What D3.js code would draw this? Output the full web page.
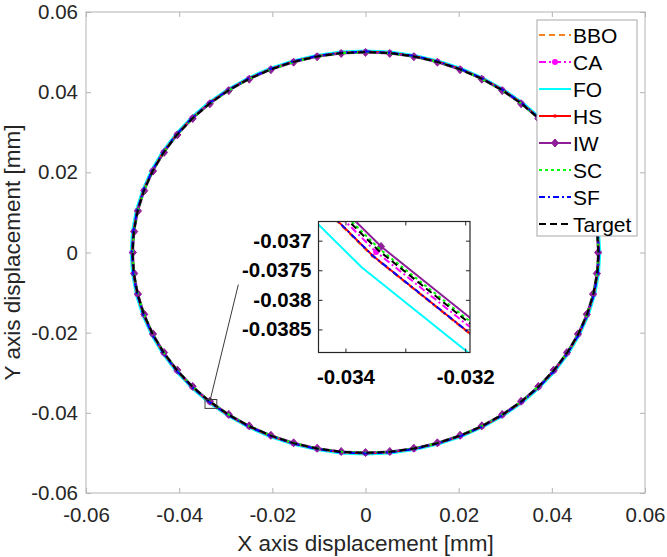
<!DOCTYPE html>
<html>
<head>
<meta charset="utf-8">
<script src="https://cdn.jsdelivr.net/npm/d3@7"></script>
<style>
  body { margin: 0; background: #fff; }
  svg { display: block; font-family: Arial, "Liberation Sans", Helvetica, sans-serif; }
</style>
</head>
<body>
<div id="root"></div>
<script>
// target trajectory, one point every 6 degrees [mm]
var targetX = [0.05, 0.049726, 0.048907, 0.047553, 0.045677, 0.043301, 0.040451, 0.037157, 0.033457, 0.029389, 0.025, 0.020337, 0.015451, 0.010396, 0.005226, 0,
  -0.005226, -0.010396, -0.015451, -0.020337, -0.025, -0.029389, -0.033457, -0.037157, -0.040451, -0.043301, -0.045677, -0.047553, -0.048907, -0.049726, -0.05,
  -0.049726, -0.048907, -0.047553, -0.045677, -0.043301, -0.040451, -0.037157, -0.033457, -0.029389, -0.025, -0.020337, -0.015451, -0.010396, -0.005226, 0,
  0.005226, 0.010396, 0.015451, 0.020337, 0.025, 0.029389, 0.033457, 0.037157, 0.040451, 0.043301, 0.045677, 0.047553, 0.048907, 0.049726, 0.05];
var targetY = [0, 0.005226, 0.010396, 0.015451, 0.020337, 0.025, 0.029389, 0.033457, 0.037157, 0.040451, 0.043301, 0.045677, 0.047553, 0.048907, 0.049726, 0.05,
  0.049726, 0.048907, 0.047553, 0.045677, 0.043301, 0.040451, 0.037157, 0.033457, 0.029389, 0.025, 0.020337, 0.015451, 0.010396, 0.005226, 0,
  -0.005226, -0.010396, -0.015451, -0.020337, -0.025, -0.029389, -0.033457, -0.037157, -0.040451, -0.043301, -0.045677, -0.047553, -0.048907, -0.049726, -0.05,
  -0.049726, -0.048907, -0.047553, -0.045677, -0.043301, -0.040451, -0.037157, -0.033457, -0.029389, -0.025, -0.020337, -0.015451, -0.010396, -0.005226, 0];

var seriesNames = ["BBO", "CA", "FO", "HS", "IW", "SC", "SF", "Target"];
// radius each algorithm actually tracked [mm]
var seriesRadius = [0.05014, 0.050045, 0.0504, 0.05013, 0.049922, 0.04997, 0.05013, 0.05];

var mainTicks = [-0.06, -0.04, -0.02, 0, 0.02, 0.04, 0.06];
var insetXTicks = [-0.034, -0.033, -0.032];
var insetXLabels = ["-0.034", "", "-0.032"];
var insetYTicks = [-0.037, -0.0375, -0.038, -0.0385];
var insetYLabels = ["-0.037", "-0.0375", "-0.038", "-0.0385"];
var insetXDomain = [-0.03445, -0.03192];
var insetYDomain = [-0.03889, -0.036676];
// leader line from the zoom box towards the inset [mm]
var leaderX = [-0.0333, -0.0273];
var leaderY = [-0.0366, -0.0080];

var styles = {
  BBO:    { color: "#f7811f", dash: "6,4",     marker: null },
  CA:     { color: "#ff00ff", dash: "7,3,2,3", marker: "dot" },
  FO:     { color: "#00ffff", dash: null,      marker: null },
  HS:     { color: "#ff0000", dash: null,      marker: "small" },
  IW:     { color: "#8e1f98", dash: null,      marker: "diamond" },
  SC:     { color: "#00ff00", dash: "3,3",     marker: null },
  SF:     { color: "#0000ff", dash: "6,3,2,3", marker: null },
  Target: { color: "#000000", dash: "7,4",     marker: null }
};

var W = 667, H = 557;
var plot = { left: 86, right: 645, top: 12, bottom: 493 };
var axisGray = "#b4b4b4", textGray = "#262626";

// build every series from the target points and its radius
var series = seriesNames.map(function(name, k) {
  var f = seriesRadius[k] / 0.05;
  return {
    name: name,
    pts: targetX.map(function(x, i) { return [x * f, targetY[i] * f]; })
  };
});

var svg = d3.select("#root").append("svg").attr("width", W).attr("height", H);
svg.append("rect").attr("width", W).attr("height", H).attr("fill", "white");

var x = d3.scaleLinear().domain([-0.06, 0.06]).range([plot.left, plot.right]);
var y = d3.scaleLinear().domain([-0.06, 0.06]).range([plot.bottom, plot.top]);

var fmt = function(d) { return d === 0 ? "0" : d.toFixed(2); };

function styleAxis(g, labels) {
  g.select(".domain").remove();
  g.selectAll(".tick line").attr("stroke", axisGray);
  g.selectAll(".tick text").attr("fill", textGray).style("font-size", labels ? "20.5px" : "0px");
}

svg.append("g").attr("transform", "translate(0," + plot.bottom + ")")
  .call(d3.axisBottom(x).tickValues(mainTicks).tickFormat(fmt).tickSizeInner(-5).tickSizeOuter(0).tickPadding(14))
  .call(styleAxis, true);
svg.append("g").attr("transform", "translate(" + plot.left + ",0)")
  .call(d3.axisLeft(y).tickValues(mainTicks).tickFormat(fmt).tickSizeInner(-5).tickSizeOuter(0).tickPadding(8))
  .call(styleAxis, true);
svg.append("g").attr("transform", "translate(0," + plot.top + ")")
  .call(d3.axisTop(x).tickValues(mainTicks).tickFormat("").tickSizeInner(-5).tickSizeOuter(0))
  .call(styleAxis, false);
svg.append("g").attr("transform", "translate(" + plot.right + ",0)")
  .call(d3.axisRight(y).tickValues(mainTicks).tickFormat("").tickSizeInner(-5).tickSizeOuter(0))
  .call(styleAxis, false);
svg.append("rect").attr("x", plot.left).attr("y", plot.top)
  .attr("width", plot.right - plot.left).attr("height", plot.bottom - plot.top)
  .attr("fill", "none").attr("stroke", axisGray);

// axis titles
svg.append("text").attr("x", (plot.left + plot.right) / 2).attr("y", 551)
  .attr("text-anchor", "middle").attr("fill", textGray).style("font-size", "22.5px")
  .text("X axis displacement [mm]");
svg.append("text").attr("transform", "translate(20," + ((plot.top + plot.bottom) / 2) + ") rotate(-90)")
  .attr("text-anchor", "middle").attr("fill", textGray).style("font-size", "22.5px")
  .text("Y axis displacement [mm]");

function drawMarker(g, type, color, px, py) {
  if (type === "dot") {
    g.append("circle").attr("cx", px).attr("cy", py).attr("r", 3).attr("fill", color);
  } else if (type === "small") {
    g.append("circle").attr("cx", px).attr("cy", py).attr("r", 1.8).attr("fill", color);
  } else if (type === "diamond") {
    g.append("path").attr("d", "M" + px + "," + (py - 4) + "L" + (px + 3.5) + "," + py + "L" + px + "," + (py + 4) + "L" + (px - 3.5) + "," + py + "Z")
      .attr("fill", color).attr("stroke", color).attr("stroke-width", 1);
  }
}

function drawSeries(g, sx, sy, pts, st, lw) {
  var line = d3.line().x(function(d) { return sx(d[0]); }).y(function(d) { return sy(d[1]); });
  g.append("path").datum(pts).attr("d", line).attr("fill", "none")
    .attr("stroke", st.color).attr("stroke-width", lw)
    .attr("stroke-dasharray", st.dash).attr("stroke-linejoin", "round");
  if (st.marker) {
    pts.slice(0, pts.length - 1).forEach(function(p) {
      drawMarker(g, st.marker, st.color, sx(p[0]), sy(p[1]));
    });
  }
}

// main trajectories
var main = svg.append("g");
series.forEach(function(s) { drawSeries(main, x, y, s.pts, styles[s.name], 2); });

// zoom box and leader line
svg.append("rect")
  .attr("x", x(insetXDomain[0])).attr("y", y(insetYDomain[1]))
  .attr("width", x(insetXDomain[1]) - x(insetXDomain[0]))
  .attr("height", y(insetYDomain[0]) - y(insetYDomain[1]))
  .attr("fill", "none").attr("stroke", "#3a3a3a").attr("stroke-width", 1);
svg.append("line")
  .attr("x1", x(leaderX[0])).attr("y1", y(leaderY[0]))
  .attr("x2", x(leaderX[1])).attr("y2", y(leaderY[1]))
  .attr("stroke", "#3a3a3a").attr("stroke-width", 1);

// inset
var ins = { left: 318.5, right: 470, top: 221.5, bottom: 352.5 };
var ix = d3.scaleLinear().domain(insetXDomain).range([ins.left, ins.right]);
var iy = d3.scaleLinear().domain(insetYDomain).range([ins.bottom, ins.top]);
svg.append("rect").attr("x", ins.left).attr("y", ins.top)
  .attr("width", ins.right - ins.left).attr("height", ins.bottom - ins.top).attr("fill", "white");
svg.append("clipPath").attr("id", "insClip").append("rect")
  .attr("x", ins.left).attr("y", ins.top)
  .attr("width", ins.right - ins.left).attr("height", ins.bottom - ins.top);
var insG = svg.append("g").attr("clip-path", "url(#insClip)");
series.forEach(function(s) { drawSeries(insG, ix, iy, s.pts, styles[s.name], 2); });

function styleInset(g, labels) {
  g.select(".domain").remove();
  g.selectAll(".tick line").attr("stroke", "#262626");
  g.selectAll(".tick text").attr("fill", "#000").style("font-size", labels ? "20.5px" : "0px").style("font-weight", "bold");
}
svg.append("g").attr("transform", "translate(0," + ins.bottom + ")")
  .call(d3.axisBottom(ix).tickValues(insetXTicks).tickFormat(function(d, i) { return insetXLabels[i]; })
    .tickSizeInner(-4).tickSizeOuter(0).tickPadding(17))
  .call(styleInset, true);
svg.append("g").attr("transform", "translate(" + ins.left + ",0)")
  .call(d3.axisLeft(iy).tickValues(insetYTicks).tickFormat(function(d, i) { return insetYLabels[i]; })
    .tickSizeInner(-4).tickSizeOuter(0).tickPadding(7))
  .call(styleInset, true);
svg.append("g").attr("transform", "translate(0," + ins.top + ")")
  .call(d3.axisTop(ix).tickValues(insetXTicks).tickFormat("").tickSizeInner(-4).tickSizeOuter(0))
  .call(styleInset, false);
svg.append("g").attr("transform", "translate(" + ins.right + ",0)")
  .call(d3.axisRight(iy).tickValues(insetYTicks).tickFormat("").tickSizeInner(-4).tickSizeOuter(0))
  .call(styleInset, false);
svg.append("rect").attr("x", ins.left).attr("y", ins.top)
  .attr("width", ins.right - ins.left).attr("height", ins.bottom - ins.top)
  .attr("fill", "none").attr("stroke", "#262626").attr("stroke-width", 1.2);

// legend
var leg = { x: 537, y: 20, w: 100, h: 216, row: 27 };
var lg = svg.append("g");
lg.append("rect").attr("x", leg.x).attr("y", leg.y).attr("width", leg.w).attr("height", leg.h)
  .attr("fill", "white").attr("stroke", "#a8a8a8");
seriesNames.forEach(function(name, i) {
  var st = styles[name];
  var cy = leg.y + 15 + i * leg.row;
  lg.append("line").attr("x1", leg.x + 2).attr("x2", leg.x + 34).attr("y1", cy).attr("y2", cy)
    .attr("stroke", st.color).attr("stroke-width", 2).attr("stroke-dasharray", st.dash);
  if (st.marker) drawMarker(lg, st.marker, st.color, leg.x + 18, cy);
  lg.append("text").attr("x", leg.x + 36).attr("y", cy + 7.5).attr("fill", "#000")
    .style("font-size", "21px").text(name);
});
</script>
</body>
</html>
